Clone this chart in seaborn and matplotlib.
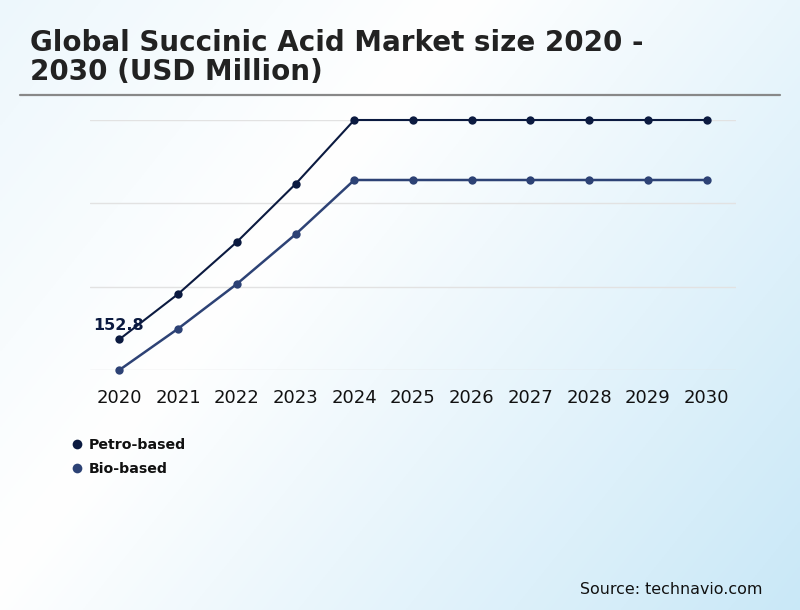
import numpy as np
import pandas as pd
import matplotlib
matplotlib.use("Agg")
import matplotlib.pyplot as plt
from matplotlib.lines import Line2D
import seaborn as sns

# values (no y axis labels in the reference)
years = [2020, 2021, 2022, 2023, 2024, 2025, 2026, 2027, 2028, 2029, 2030]
petro_based = [152.8, 180.0, 211.2, 246.0, 284.4, 284.4, 284.4, 284.4, 284.4, 284.4, 284.4]
bio_based = [134.4, 159.2, 186.0, 215.8, 248.4, 248.4, 248.4, 248.4, 248.4, 248.4, 248.4]
series_names = ["Petro-based", "Bio-based"]
series_colors = ["#0b1a40", "#2d4275"]
grid_values = [134.4, 184.4, 234.4, 284.4]

df = pd.DataFrame({
    "year": years * 2,
    "value": petro_based + bio_based,
    "segment": [series_names[0]] * len(years) + [series_names[1]] * len(years),
})

sns.set_style("white")
plt.rcParams["font.family"] = ["DejaVu Sans"]

fig = plt.figure(figsize=(8, 6.1), dpi=100)

# diagonal gradient background: pale blue -> white -> light blue
bg = fig.add_axes([0, 0, 1, 1], zorder=-10)
gx, gy = np.meshgrid(np.linspace(0, 1, 300), np.linspace(0, 1, 300))
t = 0.62 * gx + 0.38 * gy
c_start = np.array([0.93, 0.97, 0.99])
c_mid = np.array([1.0, 1.0, 1.0])
c_end = np.array([0.79, 0.91, 0.97])
t_white = 0.36
img = np.where(
    (t < t_white)[..., None],
    c_start + (c_mid - c_start) * (t / t_white)[..., None],
    c_mid + (c_end - c_mid) * ((t - t_white) / (1 - t_white))[..., None],
)
bg.imshow(img, aspect="auto", extent=[0, 1, 0, 1], origin="upper")
bg.set_axis_off()

W, H = 800, 610
ax = fig.add_axes([90 / W, 1 - 370 / H, (736 - 90) / W, (370 - 120) / H])
ax.set_facecolor("none")

sns.lineplot(data=df, x="year", y="value", hue="segment", palette=series_colors,
             marker="o", markersize=6, markeredgewidth=0, ax=ax, legend=False)
for line, lw in zip(ax.lines, [1.5, 1.8]):
    line.set_linewidth(lw)
    line.set_clip_on(False)

ax.set_xlim(2019.5, 2030.5)
ax.set_ylim(grid_values[0], grid_values[-1])
ax.set_yticks(grid_values)
ax.set_yticklabels([])
ax.set_xticks(years)
ax.set_xticklabels([str(y) for y in years], fontsize=13, color="#111111")
ax.tick_params(axis="x", length=0, pad=14)
ax.tick_params(axis="y", length=0)
ax.grid(axis="y", color="#e2e2e2", linewidth=1)
ax.set_xlabel("")
ax.set_ylabel("")
for s in ax.spines.values():
    s.set_visible(False)

ax.annotate(f"{petro_based[0]:.1f}", (years[0], petro_based[0]), xytext=(-18.5, 4.7),
            textcoords="offset points", fontsize=11.5, fontweight="bold",
            color=series_colors[0], ha="left", va="bottom")

# title and rule
fig.text(30 / W, 1 - 29 / H, "Global Succinic Acid Market size 2020 -\n2030 (USD Million)",
         fontsize=20, fontweight="bold", color="#222222",
         ha="left", va="top", linespacing=1.05)
fig.add_artist(Line2D([20 / W, 780 / W], [1 - 95 / H, 1 - 95 / H],
                      color="#888888", linewidth=1.6, transform=fig.transFigure))

handles = [Line2D([], [], linestyle="none", marker="o", markersize=7,
                  markeredgewidth=0, color=c) for c in series_colors]
fig.legend(handles, series_names, loc="upper left",
           bbox_to_anchor=(59 / W, 1 - 425 / H), bbox_transform=fig.transFigure,
           frameon=False, handlelength=0.8, handletextpad=0.4, labelspacing=0.75,
           labelcolor="#111111", prop={"weight": "bold", "size": 10.2})

fig.text(763 / W, 1 - 589 / H, "Source: technavio.com", fontsize=11.4, color="#111111",
         ha="right", va="center")

fig.savefig("out.png", dpi=100)
